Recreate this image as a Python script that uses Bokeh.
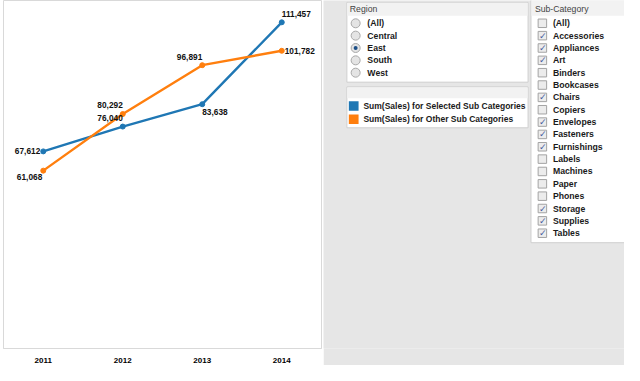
from bokeh.plotting import figure
from bokeh.models import Range1d, FactorRange
from bokeh.layouts import row
from bokeh.embed import file_html
from bokeh.resources import INLINE
from bokeh.core.properties import value

# ---------------- data ----------------
years = ["2011", "2012", "2013", "2014"]
selected_sales = [67612, 76040, 83638, 111457]
other_sales = [61068, 80292, 96891, 101782]
series_names = ["Sum(Sales) for Selected Sub Categories",
                "Sum(Sales) for Other Sub Categories"]
regions = ["(All)", "Central", "East", "South", "West"]
region_selected = "East"
sub_categories = ["(All)", "Accessories", "Appliances", "Art", "Binders",
                  "Bookcases", "Chairs", "Copiers", "Envelopes", "Fasteners",
                  "Furnishings", "Labels", "Machines", "Paper", "Phones",
                  "Storage", "Supplies", "Tables"]
sub_checked = [False, True, True, True, False, False, True, False, True, True,
               True, False, False, False, False, True, True, True]

# ---------------- style ----------------
BLUE = "#1f77b4"
ORANGE = "#ff7f0e"
GREY_BG = "#e6e6e6"
FONT = "Liberation Sans"
H = 365
BOTTOM = 14
# panel coordinates are given in a 640x381 design grid, scaled to the canvas
DESIGN_H = 381

# label placement (align, x offset, y offset) per point
sel_label_style = [("right", -3, 0), ("right", 0, -9), ("left", 0, 8), ("left", 0, -8)]
oth_label_style = [("right", -1, 6), ("right", 0, -9), ("right", 0, -8), ("left", 3, 0)]

# ---------------- chart ----------------
p = figure(width=323, height=H,
           x_range=FactorRange(factors=years, range_padding=0),
           y_range=Range1d(650, 118865),
           output_backend="svg", toolbar_location=None,
           y_axis_location=None,
           min_border_left=3, min_border_right=2, min_border_top=0, min_border_bottom=BOTTOM,
           background_fill_color="white", border_fill_color="white")
p.xgrid.visible = False
p.ygrid.visible = False
p.outline_line_color = "#d9d9d9"
ax = p.xaxis[0]
ax.axis_line_color = "#d9d9d9"
ax.major_tick_line_color = None
ax.minor_tick_line_color = None
ax.major_label_text_font = FONT
ax.major_label_text_font_size = "8px"
ax.major_label_text_font_style = "bold"
ax.major_label_text_color = "#000000"
ax.major_label_standoff = 3

p.line(years, selected_sales, line_width=2.4, color=BLUE)
p.scatter(years, selected_sales, size=5, color=BLUE)
p.line(years, other_sales, line_width=2.4, color=ORANGE)
p.scatter(years, other_sales, size=5, color=ORANGE)

for vals, styles in ((selected_sales, sel_label_style), (other_sales, oth_label_style)):
    for yr, v, (al, dx, dy) in zip(years, vals, styles):
        p.text(x=[yr], y=[v], text=[f"{v:,}"], text_align=al, text_baseline="middle",
               x_offset=dx, y_offset=dy, text_font=value(FONT), text_font_size="8.3px",
               text_font_style="bold", text_color="#111111")

# ---------------- filter panels ----------------
q = figure(width=301, height=H, x_range=Range1d(331, 640),
           y_range=Range1d((H - BOTTOM) * DESIGN_H / H, 0),
           output_backend="svg", toolbar_location=None,
           x_axis_location=None, y_axis_location=None,
           min_border_left=0, min_border_right=0, min_border_top=0, min_border_bottom=BOTTOM,
           background_fill_color=GREY_BG, border_fill_color=GREY_BG,
           outline_line_color=None)
q.xgrid.visible = False
q.ygrid.visible = False

PANEL_LINE = "#cfcfcf"
HEAD_FILL = "#f2f2f2"
ITEM_SIZE = "8.7px"

# Region panel
q.quad(left=[355], right=[541], top=[2], bottom=[86], fill_color="white", line_color=PANEL_LINE)
q.quad(left=[355.5], right=[540.5], top=[2.5], bottom=[16], fill_color=HEAD_FILL, line_color=None)
q.text(x=[358], y=[9], text=["Region"], text_baseline="middle", text_font=value(FONT),
       text_font_size="8.7px", text_color="#444444")
ry = [24 + 13 * i for i in range(len(regions))]
q.scatter([364] * len(regions), ry, size=9, fill_color="#e4e4e4", line_color="#a9a9a9")
si = regions.index(region_selected)
q.scatter([364], [ry[si]], size=4, fill_color="#1c4f87", line_color=None)
q.text(x=[376] * len(regions), y=ry, text=regions, text_baseline="middle",
       text_font=value(FONT), text_font_size=ITEM_SIZE, text_font_style="bold",
       text_color="#1a1a1a")

# Legend panel
q.quad(left=[355], right=[541], top=[91], bottom=[134], fill_color="white", line_color=PANEL_LINE)
q.quad(left=[355.5], right=[540.5], top=[91.5], bottom=[103], fill_color=HEAD_FILL, line_color=None)
ly = [111 + 14 * i for i in range(len(series_names))]
q.quad(left=[357] * 2, right=[367] * 2, top=[y - 5 for y in ly], bottom=[y + 5 for y in ly],
       fill_color=[BLUE, ORANGE], line_color=None)
q.text(x=[372] * 2, y=ly, text=series_names, text_baseline="middle",
       text_font=value(FONT), text_font_size="8.5px", text_font_style="bold",
       text_color="#1a1a1a")

# Sub-Category panel
q.quad(left=[544], right=[650], top=[-2], bottom=[255], fill_color="white", line_color=PANEL_LINE)
q.quad(left=[544.5], right=[650], top=[-1], bottom=[16], fill_color=HEAD_FILL, line_color=None)
q.text(x=[548], y=[9], text=["Sub-Category"], text_baseline="middle", text_font=value(FONT),
       text_font_size="8.7px", text_color="#444444")
cy = [24 + 13 * i for i in range(len(sub_categories))]
q.scatter([555.7] * len(cy), cy, marker="square", size=8.5, fill_color="#ececec",
          line_color="#a3a3a3")
chk_y = [y for y, c in zip(cy, sub_checked) if c]
q.text(x=[556] * len(chk_y), y=chk_y, text=["\u2713"] * len(chk_y), text_align="center",
       text_baseline="middle", text_font=value("DejaVu Sans"), text_font_size="9px",
       text_color="#46599c")
q.text(x=[566.5] * len(cy), y=cy, text=sub_categories, text_baseline="middle",
       text_font=value(FONT), text_font_size=ITEM_SIZE, text_font_style="bold",
       text_color="#1a1a1a")

layout = row(p, q, spacing=0)
open("out.html", "w").write(file_html(layout, INLINE))
